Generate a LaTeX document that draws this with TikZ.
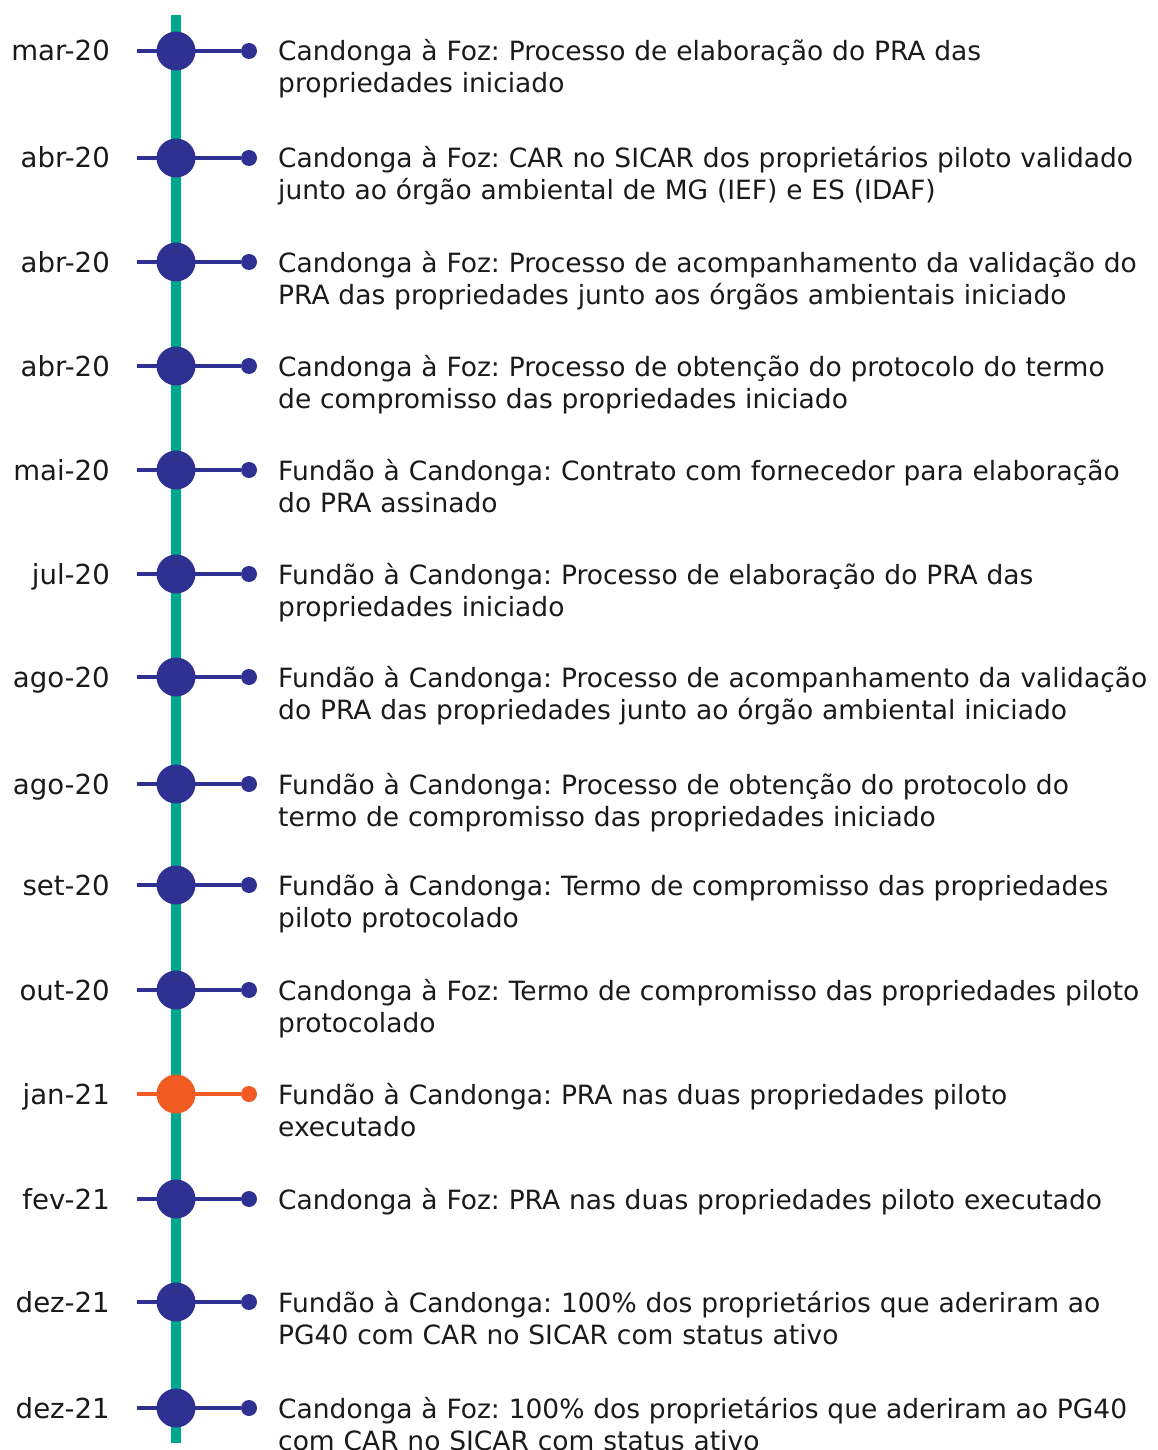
\documentclass[tikz,border=0pt]{standalone}
\usepackage{fontspec}
\setmainfont{DejaVu Sans}
\newfontfamily\bodyfont{DejaVu Sans}
\frenchspacing
\definecolor{navy}{RGB}{46,49,146}
\definecolor{teal}{RGB}{0,168,143}
\definecolor{orng}{RGB}{241,90,34}
\definecolor{ink}{RGB}{26,26,26}
\tikzset{
  bigdot/.style={circle,fill=#1,minimum size=39pt,inner sep=0pt},
  smalldot/.style={circle,fill=#1,minimum size=16pt,inner sep=0pt},
  stem/.style={draw=#1,line width=4pt},
  datelbl/.style={anchor=base east,inner sep=0pt,text=ink,font=\frenchspacing\fontsize{27.6}{32}\selectfont},
  desclbl/.style={anchor=base west,inner sep=0pt,text=ink,align=left,text width=900pt,font=\frenchspacing\bodyfont\fontsize{26.5}{32}\selectfont},
}
\newcommand{\tlrow}[5]{%
  \coordinate (s#1) at (137,#2);
  \node[smalldot=#4] (d#1) at (249,#2) {};
  \draw[stem=#4] (s#1) -- (d#1);
  \node[bigdot=#4] (c#1) at (176,#2) {};
  \node[datelbl] (t#1) at (110,#2+10) {#3};
  \node[desclbl] (x#1) at (278,#2+10) {#5};
}
\begin{document}
\begin{tikzpicture}[x=1pt,y=-1pt]
\useasboundingbox (0,0) rectangle (1157,1450);
\coordinate (top) at (176,15);
\coordinate (bot) at (176,1443);
\draw[teal,line width=10pt] (top) -- (bot);
\tlrow{1}{51}{mar-20}{navy}{Candonga à Foz: Processo de elaboração do PRA das\\propriedades iniciado}
\tlrow{2}{158}{abr-20}{navy}{Candonga à Foz: CAR no SICAR dos proprietários piloto validado\\junto ao órgão ambiental de MG (IEF) e ES (IDAF)}
\tlrow{3}{262}{abr-20}{navy}{Candonga à Foz: Processo de acompanhamento da validação do\\PRA das propriedades junto aos órgãos ambientais iniciado}
\tlrow{4}{366}{abr-20}{navy}{Candonga à Foz: Processo de obtenção do protocolo do termo\\de compromisso das propriedades iniciado}
\tlrow{5}{470}{mai-20}{navy}{Fundão à Candonga: Contrato com fornecedor para elaboração\\do PRA assinado}
\tlrow{6}{574}{jul-20}{navy}{Fundão à Candonga: Processo de elaboração do PRA das\\propriedades iniciado}
\tlrow{7}{677}{ago-20}{navy}{Fundão à Candonga: Processo de acompanhamento da validação\\do PRA das propriedades junto ao órgão ambiental iniciado}
\tlrow{8}{784}{ago-20}{navy}{Fundão à Candonga: Processo de obtenção do protocolo do\\termo de compromisso das propriedades iniciado}
\tlrow{9}{885}{set-20}{navy}{Fundão à Candonga: Termo de compromisso das propriedades\\piloto protocolado}
\tlrow{10}{990}{out-20}{navy}{Candonga à Foz: Termo de compromisso das propriedades piloto\\protocolado}
\tlrow{11}{1094}{jan-21}{orng}{Fundão à Candonga: PRA nas duas propriedades piloto\\executado}
\tlrow{12}{1199}{fev-21}{navy}{Candonga à Foz: PRA nas duas propriedades piloto executado}
\tlrow{13}{1302}{dez-21}{navy}{Fundão à Candonga: 100\% dos proprietários que aderiram ao\\PG40 com CAR no SICAR com status ativo}
\tlrow{14}{1408}{dez-21}{navy}{Candonga à Foz: 100\% dos proprietários que aderiram ao PG40\\com CAR no SICAR com status ativo}
\end{tikzpicture}
\end{document}
